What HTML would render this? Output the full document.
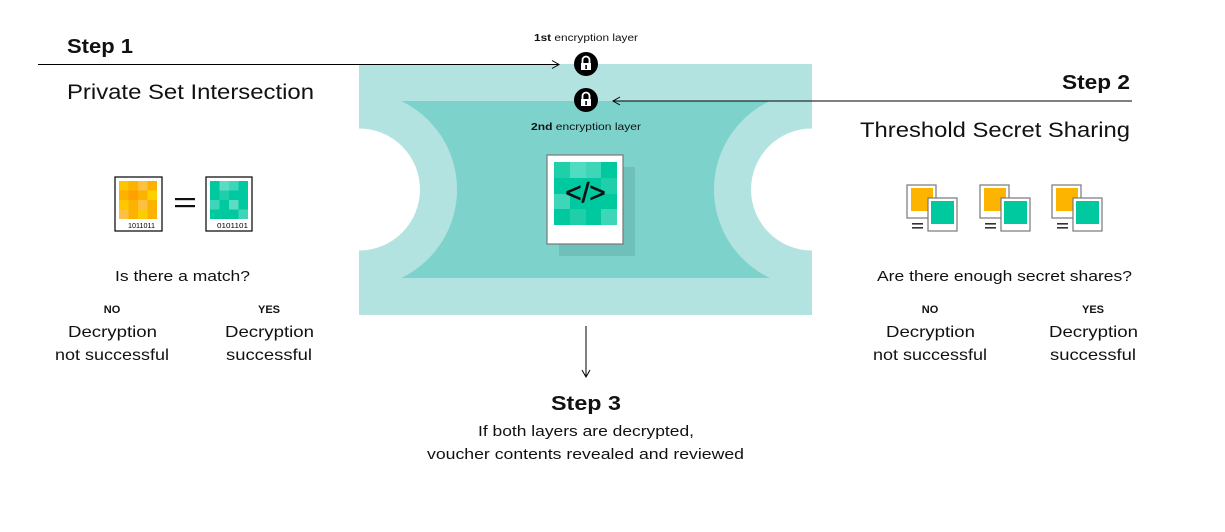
<!DOCTYPE html>
<html><head><meta charset="utf-8"><style>
html,body{margin:0;padding:0;background:#fff;}
svg{display:block;font-family:"Liberation Sans",Arial,sans-serif;}
</style></head><body>
<svg width="1225" height="532" viewBox="0 0 1225 532" xmlns="http://www.w3.org/2000/svg">
<defs>
<mask id="m1">
<rect x="0" y="0" width="1225" height="532" fill="#fff"/>
<circle cx="359" cy="189.5" r="61" fill="#000"/>
<circle cx="812" cy="189.5" r="61" fill="#000"/>
</mask>
<mask id="m2">
<rect x="0" y="0" width="1225" height="532" fill="#fff"/>
<circle cx="359" cy="189.5" r="98" fill="#000"/>
<circle cx="812" cy="189.5" r="98" fill="#000"/>
</mask>
</defs>
<rect x="359" y="64" width="453" height="251" fill="#b3e3e0" mask="url(#m1)"/>
<rect x="400" y="101" width="370" height="177" fill="#7dd3cc" mask="url(#m2)"/>
<!-- polaroid -->
<rect x="559" y="167" width="76" height="89" fill="#6fbfba"/>
<rect x="547" y="155" width="76" height="89" fill="#fff" stroke="#777" stroke-width="1.2"/>
<g>
<rect x="554" y="162" width="63" height="63" fill="#00c9a0"/>
<rect x="570" y="162" width="16" height="16" fill="#50dcc0"/>
<rect x="586" y="162" width="15" height="16" fill="#3ed6b8"/>
<rect x="554" y="162" width="16" height="16" fill="#1ecfaa"/>
<rect x="554" y="194" width="16" height="15" fill="#3ed6b8"/>
<rect x="601" y="209" width="16" height="16" fill="#3ed6b8"/>
<rect x="601" y="178" width="16" height="16" fill="#1ecfaa"/>
<rect x="570" y="209" width="16" height="16" fill="#1ecfaa"/>
</g>
<text x="585.5" y="202" font-size="28" text-anchor="middle" fill="#111" stroke="#111" stroke-width="0.6">&lt;/&gt;</text>
<!-- locks -->
<g>
<circle cx="586" cy="64" r="12" fill="#000"/>
<path d="M582.5 64 v-4 a3.5 3.5 0 0 1 7 0 v4" fill="none" stroke="#fff" stroke-width="1.8"/>
<rect x="581" y="63" width="10" height="7" fill="#fff"/>
<rect x="585.3" y="65" width="1.6" height="4" fill="#000"/>
<circle cx="586" cy="100" r="12" fill="#000"/>
<path d="M582.5 100 v-4 a3.5 3.5 0 0 1 7 0 v4" fill="none" stroke="#fff" stroke-width="1.8"/>
<rect x="581" y="99" width="10" height="7" fill="#fff"/>
<rect x="585.3" y="101" width="1.6" height="4" fill="#000"/>
</g>
<text x="534" y="41" font-size="10" textLength="104" lengthAdjust="spacingAndGlyphs" fill="#111"><tspan font-weight="bold">1st</tspan> encryption layer</text>
<text x="531" y="130" font-size="10.5" textLength="110" lengthAdjust="spacingAndGlyphs" fill="#111"><tspan font-weight="bold">2nd</tspan> encryption layer</text>
<!-- arrows -->
<line x1="38" y1="64.5" x2="558" y2="64.5" stroke="#000" stroke-width="1"/>
<path d="M552 60.5 L559 64.5 L552 68.5" fill="none" stroke="#000" stroke-width="1"/>
<line x1="613" y1="101" x2="1132" y2="101" stroke="#000" stroke-width="1"/>
<path d="M620 97 L613 101 L620 105" fill="none" stroke="#000" stroke-width="1"/>
<line x1="586" y1="326" x2="586" y2="376" stroke="#000" stroke-width="1"/>
<path d="M582 370 L586 377 L590 370" fill="none" stroke="#000" stroke-width="1"/>
<!-- headings -->
<text x="67" y="53" font-size="20" font-weight="bold" fill="#111" textLength="66" lengthAdjust="spacingAndGlyphs">Step 1</text>
<text x="67" y="99" font-size="21" fill="#111" textLength="247" lengthAdjust="spacingAndGlyphs">Private Set Intersection</text>
<text x="1062" y="89" font-size="20" font-weight="bold" fill="#111" textLength="68" lengthAdjust="spacingAndGlyphs">Step 2</text>
<text x="860" y="137" font-size="21" fill="#111" textLength="270" lengthAdjust="spacingAndGlyphs">Threshold Secret Sharing</text>
<!-- left icons -->
<rect x="115" y="177" width="47" height="54" fill="#fff" stroke="#000" stroke-width="1.2"/>
<rect x="119" y="181" width="38" height="38" fill="#fdb200"/>
<rect x="119" y="181" width="9.5" height="9.5" fill="#fdc400"/>
<rect x="138" y="181" width="9.5" height="9.5" fill="#fdc040"/>
<rect x="128.5" y="190.5" width="9.5" height="9.5" fill="#fda000"/>
<rect x="147.5" y="190.5" width="9.5" height="9.5" fill="#fdd000"/>
<rect x="119" y="200" width="9.5" height="9.5" fill="#fdc800"/>
<rect x="138" y="200" width="9.5" height="9.5" fill="#fdc040"/>
<rect x="119" y="209.5" width="9.5" height="9.5" fill="#fdc040"/>
<rect x="138" y="209.5" width="9.5" height="9.5" fill="#fdcc00"/>
<text x="128" y="228" font-size="7" textLength="27" lengthAdjust="spacingAndGlyphs" fill="#000">1011011</text>
<rect x="175" y="198" width="20" height="2.2" fill="#111"/>
<rect x="175" y="205" width="20" height="2.2" fill="#111"/>
<rect x="206" y="177" width="46" height="54" fill="#fff" stroke="#000" stroke-width="1.2"/>
<rect x="210" y="181" width="38" height="38" fill="#00c9a0"/>
<rect x="219.5" y="181" width="9.5" height="9.5" fill="#5ddcc4"/>
<rect x="229" y="181" width="9.5" height="9.5" fill="#3ed6b8"/>
<rect x="210" y="200" width="9.5" height="9.5" fill="#3ed6b8"/>
<rect x="229" y="200" width="9.5" height="9.5" fill="#5ddcc4"/>
<rect x="238.5" y="209.5" width="9.5" height="9.5" fill="#3ed6b8"/>
<rect x="219.5" y="190.5" width="9.5" height="9.5" fill="#1ecfaa"/>
<text x="217" y="228" font-size="7" textLength="31" lengthAdjust="spacingAndGlyphs" fill="#000">0101101</text>
<!-- right icons -->
<g id="g1">
<rect x="907" y="185" width="29" height="33" fill="#fff" stroke="#777" stroke-width="1.2"/>
<rect x="911" y="188" width="22" height="23" fill="#fdb400"/>
<rect x="928" y="198" width="29" height="33" fill="#fff" stroke="#777" stroke-width="1.2"/>
<rect x="931" y="201" width="23" height="23" fill="#00c9a0"/>
<rect x="912" y="223" width="11" height="1.6" fill="#333"/>
<rect x="912" y="227" width="11" height="1.6" fill="#333"/>
</g>
<use href="#g1" x="73"/>
<use href="#g1" x="145"/>
<!-- lower left -->
<text x="115" y="281" font-size="15" fill="#111" textLength="135" lengthAdjust="spacingAndGlyphs">Is there a match?</text>
<text x="112" y="313" font-size="11" font-weight="bold" text-anchor="middle" fill="#111">NO</text>
<text x="269" y="313" font-size="11" font-weight="bold" text-anchor="middle" fill="#111">YES</text>
<text x="68" y="337" font-size="16" fill="#111" textLength="89" lengthAdjust="spacingAndGlyphs">Decryption</text>
<text x="55" y="360" font-size="16" fill="#111" textLength="114" lengthAdjust="spacingAndGlyphs">not successful</text>
<text x="225" y="337" font-size="16" fill="#111" textLength="89" lengthAdjust="spacingAndGlyphs">Decryption</text>
<text x="226" y="360" font-size="16" fill="#111" textLength="86" lengthAdjust="spacingAndGlyphs">successful</text>
<!-- lower right -->
<text x="877" y="281" font-size="15" fill="#111" textLength="255" lengthAdjust="spacingAndGlyphs">Are there enough secret shares?</text>
<text x="930" y="313" font-size="11" font-weight="bold" text-anchor="middle" fill="#111">NO</text>
<text x="1093" y="313" font-size="11" font-weight="bold" text-anchor="middle" fill="#111">YES</text>
<text x="886" y="337" font-size="16" fill="#111" textLength="89" lengthAdjust="spacingAndGlyphs">Decryption</text>
<text x="873" y="360" font-size="16" fill="#111" textLength="114" lengthAdjust="spacingAndGlyphs">not successful</text>
<text x="1049" y="337" font-size="16" fill="#111" textLength="89" lengthAdjust="spacingAndGlyphs">Decryption</text>
<text x="1050" y="360" font-size="16" fill="#111" textLength="86" lengthAdjust="spacingAndGlyphs">successful</text>
<!-- step 3 -->
<text x="551" y="410" font-size="20" font-weight="bold" fill="#111" textLength="70" lengthAdjust="spacingAndGlyphs">Step 3</text>
<text x="478" y="436" font-size="15" fill="#111" textLength="216" lengthAdjust="spacingAndGlyphs">If both layers are decrypted,</text>
<text x="427" y="459" font-size="15" fill="#111" textLength="317" lengthAdjust="spacingAndGlyphs">voucher contents revealed and reviewed</text>
</svg>
</body></html>
